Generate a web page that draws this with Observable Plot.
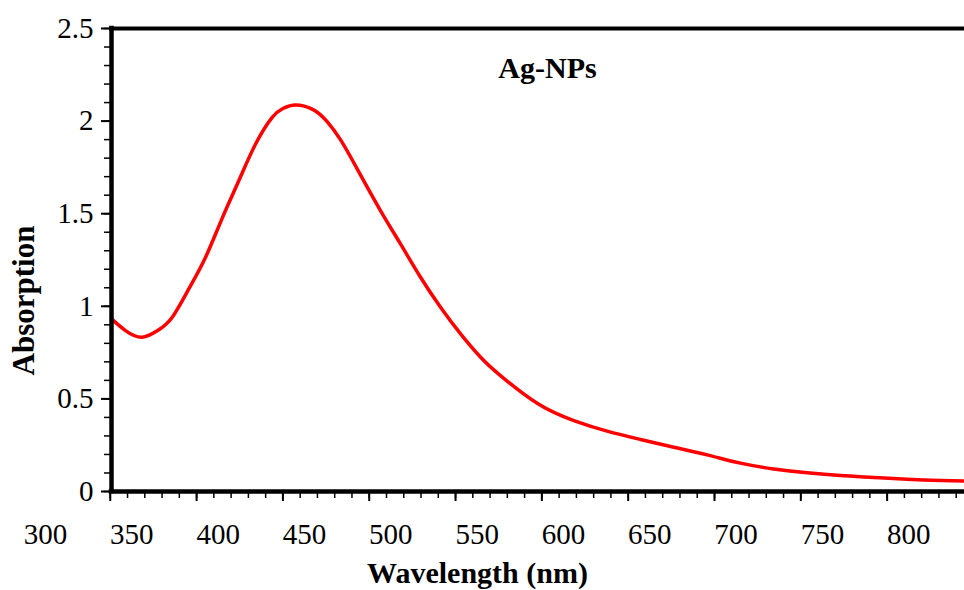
<!DOCTYPE html>
<html>
<head>
<meta charset="utf-8">
<script src="https://cdn.jsdelivr.net/npm/d3@7"></script>
<script src="https://cdn.jsdelivr.net/npm/@observablehq/plot@0.6"></script>
<style>
  html, body { margin: 0; padding: 0; background: #fff; }
  svg { display: block; }
</style>
</head>
<body>
<div id="chart"></div>
<script>
// Data
const wavelength = [338.2, 346.3, 356.0, 365.6, 373.4, 383.0, 392.7, 402.3, 412.0, 421.6,
  431.3, 437.5, 444.8, 455.0, 463.0, 471.0, 480.5, 494.0, 505.6, 517.2, 528.8,
  540.4, 552.0, 563.5, 585.0, 606.0, 625.3, 644.6, 663.9, 683.2,
  702.5, 721.8, 741.2, 760.4, 779.7, 799.1, 818.4, 832.3];
const absorbance = [0.932, 0.869, 0.833, 0.873, 0.941, 1.094, 1.265, 1.475, 1.679, 1.875,
  2.020, 2.068, 2.087, 2.062, 1.998, 1.897, 1.742, 1.517, 1.337, 1.157, 0.995,
  0.851, 0.725, 0.626, 0.475, 0.383, 0.326, 0.281, 0.239, 0.198,
  0.153, 0.122, 0.101, 0.086, 0.076, 0.066, 0.059, 0.056];

const xTickLabels = [300, 350, 400, 450, 500, 550, 600, 650, 700, 750, 800];
const xMajorTicks = [350, 400, 450, 500, 550, 600, 650, 700, 750, 800];
const xMinorTicks = [350, 360, 370, 380, 390, 400, 410, 420, 430, 440, 450, 460, 470, 480, 490,
  500, 510, 520, 530, 540, 550, 560, 570, 580, 590, 600, 610, 620, 630, 640, 650, 660, 670, 680, 690,
  700, 710, 720, 730, 740, 750, 760, 770, 780, 790, 800, 810, 820, 830, 840];
const yTickLabels = [0, 0.5, 1, 1.5, 2, 2.5];
const yMinorTicks = [0, 0.1, 0.2, 0.3, 0.4, 0.5, 0.6, 0.7, 0.8, 0.9, 1, 1.1, 1.2, 1.3, 1.4,
  1.5, 1.6, 1.7, 1.8, 1.9, 2, 2.1, 2.2, 2.3, 2.4, 2.5];
const xDomain = [338.2, 832.3];
const yDomain = [0, 2.5];

const title = "Ag-NPs";
const xLabel = "Wavelength (nm)";
const yLabel = "Absorption";

const data = wavelength.map((w, i) => ({w, a: absorbance[i]}));

const chart = Plot.plot({
  width: 964,
  height: 590,
  marginLeft: 111,
  marginRight: 0,
  marginTop: 28,
  marginBottom: 99,
  style: {fontFamily: "'Liberation Serif', serif", background: "white", color: "black"},
  x: {domain: xDomain, axis: null},
  y: {domain: yDomain, axis: null},
  marks: [
    Plot.line(data, {x: "w", y: "a", stroke: "#ff0000", strokeWidth: 3.5, curve: "natural"}),
    Plot.axisX({ticks: xMinorTicks, tickSize: 7, tickFormat: () => "", dx: -21.6, label: null, strokeWidth: 1.5}),
    Plot.axisX({ticks: xMajorTicks, tickSize: 10, tickFormat: () => "", dx: -21.6, label: null, strokeWidth: 2}),
    Plot.axisX({ticks: xTickLabels, tickSize: 0, tickPadding: 32, fontSize: 29, label: null, tickFormat: d => String(d)}),
    Plot.axisY({ticks: yMinorTicks, tickSize: 7, tickFormat: () => "", label: null, strokeWidth: 1.5}),
    Plot.axisY({ticks: yTickLabels, tickSize: 10, tickPadding: 8, fontSize: 29, label: null, tickFormat: d => String(d), strokeWidth: 2}),
    Plot.ruleY([yDomain[0]], {strokeWidth: 4.5, strokeLinecap: "square"}),
    Plot.ruleY([yDomain[1]], {strokeWidth: 4, strokeLinecap: "square"}),
    Plot.ruleX([xDomain[0]], {strokeWidth: 4.5, strokeLinecap: "square"}),
    Plot.text([title], {frameAnchor: "top", textAnchor: "middle", dx: 9.5, dy: 49, lineAnchor: "bottom", fontSize: 30, fontWeight: "bold"}),
    Plot.text([xLabel], {frameAnchor: "bottom", textAnchor: "middle", dx: -60.5, dy: 91, lineAnchor: "bottom", fontSize: 30, fontWeight: "bold"}),
    Plot.text([yLabel], {frameAnchor: "left", textAnchor: "middle", rotate: -90, dx: -87, dy: 40.5, fontSize: 31, fontWeight: "bold"})
  ]
});
document.getElementById("chart").appendChild(chart);
</script>
</body>
</html>
